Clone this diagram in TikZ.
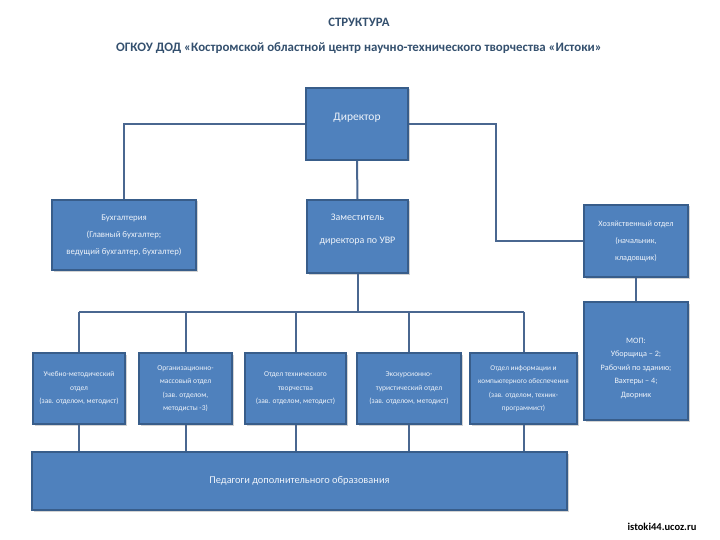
\documentclass[tikz,border=0pt]{standalone}
\usepackage{fontspec}
\setmainfont{Carlito}
\usetikzlibrary{shadows}
\definecolor{boxfill}{HTML}{4F81BD}
\definecolor{boxdraw}{HTML}{385D8A}
\definecolor{linec}{HTML}{4A6790}
\definecolor{titlec}{HTML}{34506E}
\definecolor{txt}{HTML}{EEF3FA}
\tikzset{
  box/.style={draw=boxdraw, line width=1.6pt, fill=boxfill, text=txt, align=center,
    inner sep=1pt, drop shadow={shadow xshift=1.5pt, shadow yshift=-1.5pt, opacity=0.35, fill=gray}},
  conn/.style={draw=linec, line width=2pt}
}
\begin{document}
\begin{tikzpicture}[x=1pt,y=-1pt]
\useasboundingbox (0,0) rectangle (720,540);
\node[text=titlec, font=\bfseries\fontsize{12.8}{14}\selectfont] (t1) at (359,22) {СТРУКТУРА};
\node[text=titlec, font=\bfseries\fontsize{12.9}{14}\selectfont] (t2) at (359,48) {ОГКОУ ДОД «Костромской областной центр научно-технического творчества «Истоки»};

\node[box, minimum width=102pt, minimum height=72pt, text depth=14pt, font=\fontsize{11.5}{13}\selectfont] (dir) at (357,124) {Директор};
\node[box, minimum width=144pt, minimum height=70pt, font=\fontsize{8.8}{17}\selectfont] (buh) at (124,235) {Бухгалтерия\\(Главный бухгалтер;\\ведущий бухгалтер, бухгалтер)};
\node[box, minimum width=101pt, minimum height=73pt, text depth=16pt, font=\fontsize{10}{23}\selectfont] (zam) at (357.5,236.5) {Заместитель\\директора по УВР};
\node[box, minimum width=104pt, minimum height=72pt, font=\fontsize{8.2}{17}\selectfont] (hoz) at (636,241) {Хозяйственный отдел\\(начальник,\\кладовщик)};
\node[box, minimum width=104pt, minimum height=118pt, text height=74pt, font=\fontsize{8.2}{13.5}\selectfont] (mop) at (636,361) {МОП:\\Уборщица – 2;\\Рабочий по зданию;\\Вахтеры – 4;\\Дворник};

\node[box, minimum width=92pt, minimum height=71pt, font=\fontsize{7.5}{13.5}\selectfont] (b1) at (79,388.5) {Учебно-методический\\отдел\\(зав. отделом, методист)};
\node[box, minimum width=93pt, minimum height=71pt, font=\fontsize{7.5}{13.5}\selectfont] (b2) at (185.5,388.5) {Организационно-\\массовый отдел\\(зав. отделом,\\методисты -3)};
\node[box, minimum width=101pt, minimum height=71pt, font=\fontsize{7.5}{13.5}\selectfont] (b3) at (295.5,388.5) {Отдел технического\\творчества\\(зав. отделом, методист)};
\node[box, minimum width=104pt, minimum height=71pt, font=\fontsize{7.5}{13.5}\selectfont] (b4) at (409,388.5) {Экскурсионно-\\туристический отдел\\(зав. отделом, методист)};
\node[box, minimum width=107pt, minimum height=71pt, font=\fontsize{7.3}{13.5}\selectfont] (b5) at (523.5,388.5) {Отдел информации и\\компьютерного обеспечения\\(зав. отделом, техник-\\программист)};

\node[box, minimum width=535pt, minimum height=58pt, font=\fontsize{10.4}{12}\selectfont] (ped) at (299.5,481) {Педагоги дополнительного образования};

\node[font=\bfseries\fontsize{10.5}{12}\selectfont, text=black] (wm) at (662,527) {istoki44.ucoz.ru};

\coordinate (rb) at (496,0);
\coordinate (bar) at (0,312);

\draw[conn] (dir.west) -- (buh.north |- dir.west) -- (buh.north);
\draw[conn] (dir.east) -| (rb |- hoz.west) -- (hoz.west);
\draw[conn] (dir.south) -- (zam.north);
\draw[conn] (zam.south) -- (zam.south |- bar);
\draw[conn] (b1.north |- bar) -- (b5.north |- bar);
\foreach \b in {b1,b2,b3,b4,b5}{
  \draw[conn] (\b.north |- bar) -- (\b.north);
  \draw[conn] (\b.south) -- (\b.south |- ped.north);
}
\draw[conn] (hoz.south) -- (mop.north);
\end{tikzpicture}
\end{document}
